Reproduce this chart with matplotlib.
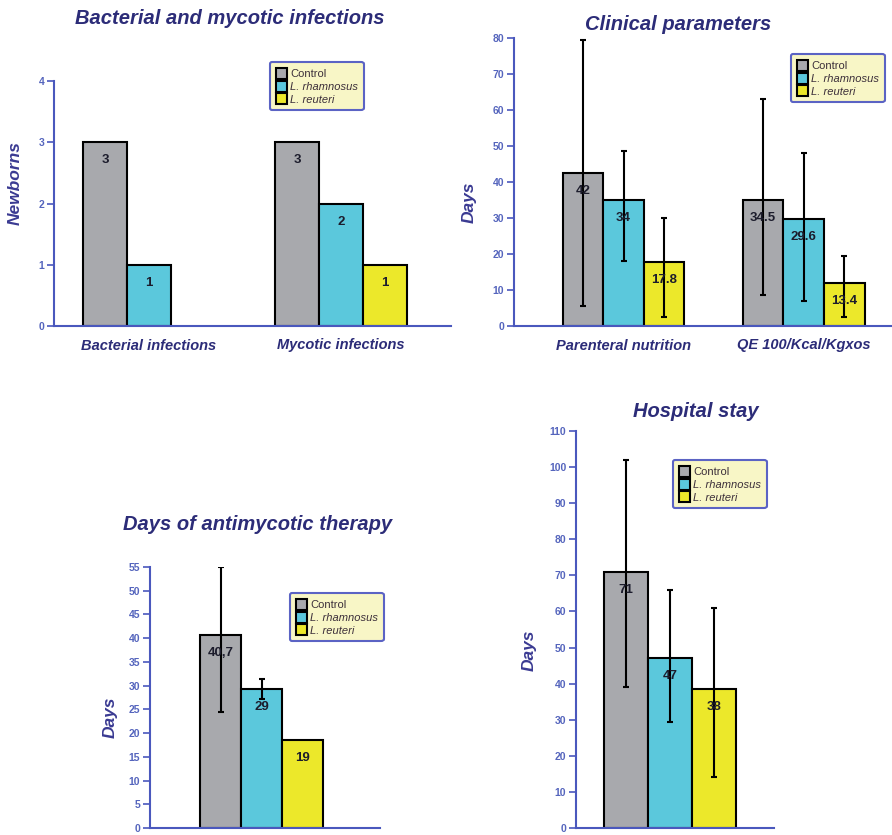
"""
Quatro painéis de barras (controle x probióticos) com barras de erro.
Salva out.png.
"""

import matplotlib
matplotlib.use("Agg")  # sem display
import matplotlib.pyplot as plt
import numpy as np

# ---- dados ----
series_nomes = ["Control", "L. rhamnosus", "L. reuteri"]

inf_grupos = ["Bacterial infections", "Mycotic infections"]
inf_control = [3, 3]
inf_rhamnosus = [1, 2]
inf_reuteri = [0, 1]  # sem barra em infecções bacterianas
inf_rotulos = [["3", "3"], ["1", "2"], ["", "1"]]

clin_grupos = ["Parenteral nutrition", "QE 100/Kcal/Kgxos"]
clin_control = [42.5, 35]
clin_rhamnosus = [35, 29.6]
clin_reuteri = [17.8, 12]
clin_rotulos = [["42", "34.5"], ["34", "29.6"], ["17.8", "13.4"]]
clin_err_baixo = [[5.5, 8.5], [18, 7], [2.5, 2.5]]
clin_err_alto = [[79.5, 63], [48.5, 48], [30, 19.5]]

anti_valores = [40.7, 29.3, 18.5]
anti_rotulos = ["40,7", "29", "19"]
anti_err_baixo = [24.5, 27.2, np.nan]
anti_err_alto = [55, 31.3, np.nan]

estad_valores = [71, 47, 38.5]
estad_rotulos = ["71", "47", "38"]
estad_err_baixo = [39, 29.5, 14]
estad_err_alto = [102, 66, 61]

# ---- estilo ----
CORES = ["#a8a9ad", "#5bc8dc", "#ece82a"]
AZUL = "#4a58bd"
AZUL_TICK = "#5565bd"
NAVY = "#2c2c78"
FONTE = "Liberation Sans"

W, H = 892, 835
fig = plt.figure(figsize=(W / 100, H / 100), dpi=100)


def _eixo(l, t, r, b):
    return fig.add_axes([l / W, 1 - b / H, (r - l) / W, (b - t) / H])


def _painel(ax, valores, rotulos, largura, xlim, ylim, yticks,
            baixo=None, alto=None, grupos=None, legenda_px=None):
    n_grupos = len(valores[0])
    centros = np.arange(n_grupos)
    barras = []
    for i, (vals, rots) in enumerate(zip(valores, rotulos)):
        xs = centros + (i - 1) * largura
        vals = np.asarray(vals, dtype=float)
        mask = vals > 0
        b = ax.bar(xs[mask], vals[mask], width=largura, color=CORES[i],
                   edgecolor="black", linewidth=1.5, zorder=2)
        barras.append(b)
        for x, v, r in zip(xs, vals, rots):
            if v > 0 and r:
                ax.annotate(r, (x, v), xytext=(0, -13), textcoords="offset points",
                            ha="center", va="center", fontsize=9.5, fontweight="bold",
                            family=FONTE, color="#1c1c2c", zorder=4)
        if baixo is not None:
            lo = np.asarray(baixo[i], dtype=float)
            hi = np.asarray(alto[i], dtype=float)
            ok = ~np.isnan(lo)
            ax.errorbar(xs[ok], vals[ok], yerr=[vals[ok] - lo[ok], hi[ok] - vals[ok]],
                        fmt="none", ecolor="black", elinewidth=1.5, capsize=2.5,
                        capthick=1.5, zorder=3)

    ax.set_xlim(*xlim)
    ax.set_ylim(*ylim)
    ax.set_yticks(yticks)
    ax.tick_params(axis="y", direction="out", length=5, width=1.2, color=AZUL,
                   labelsize=7.5, labelcolor=AZUL_TICK, pad=2)
    for lab in ax.get_yticklabels():
        lab.set_family(FONTE)
        lab.set_fontweight("bold")
    if grupos:
        ax.set_xticks(centros)
        ax.set_xticklabels(grupos, fontsize=10.5, fontweight="bold", style="italic",
                           family=FONTE, color=NAVY)
        ax.tick_params(axis="x", length=0, pad=9)
    else:
        ax.set_xticks([])
    for lado in ["top", "right"]:
        ax.spines[lado].set_visible(False)
    for lado in ["left", "bottom"]:
        ax.spines[lado].set_color(AZUL)
        ax.spines[lado].set_linewidth(1.5)

    l, t = legenda_px
    leg = ax.legend(barras, series_nomes, loc="upper left",
                    bbox_to_anchor=(l / W, 1 - t / H), bbox_transform=fig.transFigure,
                    borderaxespad=0, handlelength=1.0, handleheight=1.15,
                    handletextpad=0.3, labelspacing=0.15, borderpad=0.5,
                    framealpha=1, prop={"family": FONTE, "size": 8})
    leg.get_frame().set_facecolor("#f8f6c6")
    leg.get_frame().set_edgecolor("#5b63c4")
    leg.get_frame().set_linewidth(1.5)
    for k, txt in enumerate(leg.get_texts()):
        txt.set_color("#3c2f3a")
        if k > 0:
            txt.set_style("italic")
    return ax


def _titulo(x, y, txt):
    fig.text(x / W, 1 - y / H, txt, ha="center", va="center", fontsize=14.5,
             fontweight="bold", style="italic", family=FONTE, color=NAVY)


def _ylabel(x, y, txt):
    fig.text(x / W, 1 - y / H, txt, ha="center", va="center", rotation=90,
             fontsize=12.5, fontweight="bold", style="italic", family=FONTE,
             color="#3a3a92")


# painel 1 - infecções
ax1 = _eixo(54, 81, 451, 326)
_painel(ax1, [inf_control, inf_rhamnosus, inf_reuteri], inf_rotulos,
        largura=0.229, xlim=(-0.495, 1.573), ylim=(0, 4), yticks=range(0, 5),
        grupos=inf_grupos, legenda_px=(270, 62))
_titulo(230, 18, "Bacterial and mycotic infections")
_ylabel(15, 183, "Newborns")

# painel 2 - parâmetros clínicos
ax2 = _eixo(514, 38, 892, 326)
_painel(ax2, [clin_control, clin_rhamnosus, clin_reuteri], clin_rotulos,
        largura=0.225, xlim=(-0.608, 1.49), ylim=(0, 80), yticks=range(0, 81, 10),
        baixo=clin_err_baixo, alto=clin_err_alto,
        grupos=clin_grupos, legenda_px=(791, 54))
_titulo(678, 24, "Clinical parameters")
_ylabel(469, 202, "Days")

# painel 3 - terapia antimicótica
ax3 = _eixo(150, 567, 380, 828)
_painel(ax3, [[v] for v in anti_valores], [[r] for r in anti_rotulos],
        largura=1.0, xlim=(-2.73, 2.88), ylim=(0, 55), yticks=range(0, 56, 5),
        baixo=[[v] for v in anti_err_baixo], alto=[[v] for v in anti_err_alto],
        legenda_px=(290, 593))
_titulo(258, 525, "Days of antimycotic therapy")
_ylabel(110, 717, "Days")

# painel 4 - internação
ax4 = _eixo(576, 431, 774, 828)
_painel(ax4, [[v] for v in estad_valores], [[r] for r in estad_rotulos],
        largura=1.0, xlim=(-2.14, 2.36), ylim=(0, 110), yticks=range(0, 111, 10),
        baixo=[[v] for v in estad_err_baixo], alto=[[v] for v in estad_err_alto],
        legenda_px=(673, 460))
_titulo(696, 412, "Hospital stay")
_ylabel(529, 650, "Days")

fig.savefig("out.png", dpi=100)
plt.close(fig)
